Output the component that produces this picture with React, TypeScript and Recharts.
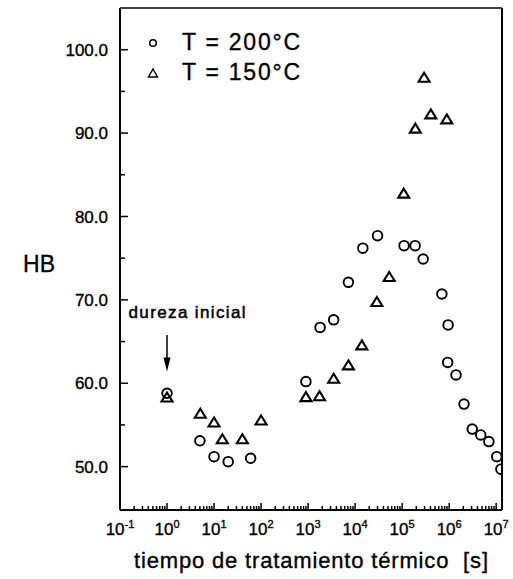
import * as React from "react"
import {
  Legend,
  ReferenceLine,
  Scatter,
  ScatterChart,
  XAxis,
  YAxis,
} from "recharts"

// tiempo [s] / dureza HB
const t200 = [1, 5, 10, 20, 60, 900, 1800, 3500, 7200, 14600, 30000, 110000, 189000, 280000, 700000, 950000, 930000, 1400000, 2070000, 3100000, 4700000, 7000000, 10300000, 12600000]
const hb200 = [58.8, 53.1, 51.2, 50.6, 51.0, 60.2, 66.7, 67.6, 72.1, 76.2, 77.7, 76.5, 76.5, 74.9, 70.7, 67.0, 62.5, 61.0, 57.5, 54.5, 53.8, 53.0, 51.2, 49.7]

const t150 = [1, 5.1, 10, 15, 40, 100, 900, 1750, 3500, 7200, 13900, 29000, 53000, 108000, 191000, 293000, 407000, 890000]
const hb150 = [58.35, 56.4, 55.35, 53.35, 53.35, 55.6, 58.4, 58.5, 60.6, 62.2, 64.6, 69.8, 72.8, 82.8, 90.6, 96.7, 92.3, 91.7]

const seriesNames = ["T = 200°C", "T = 150°C"]

const xMajorExps = [-1, 0, 1, 2, 3, 4, 5, 6, 7]
const yTicks = [50, 55, 60, 65, 70, 75, 80, 85, 90, 95, 100]
const xDomain = [0.1, 13300000]
const yDomain = [44.8, 105]

const data200 = t200.map((t, i) => ({ t, hb: hb200[i] }))
const data150 = t150.map((t, i) => ({ t, hb: hb150[i] }))

const xTicks: number[] = []
xMajorExps.forEach((e, i) => {
  if (i === xMajorExps.length - 1) {
    xTicks.push(Math.pow(10, e))
    return
  }
  for (let m = 1; m <= 9; m++) xTicks.push(Number((m * Math.pow(10, e)).toPrecision(6)))
})

const font = "'Liberation Sans', Arial, sans-serif"
// scanned look: slightly heavier glyphs
const ink = { fill: "#000", stroke: "#000", strokeWidth: 0.35 }

const isDecade = (v: number) => {
  const lg = Math.log10(v)
  return Math.abs(lg - Math.round(lg)) < 1e-9
}

const XTick = (props: any) => {
  const { x, y, payload } = props
  const v = payload.value
  const major = isDecade(v)
  const exp = Math.round(Math.log10(v))
  return (
    <g>
      <line x1={x} y1={y} x2={x} y2={y - (major ? 7 : 4)} stroke="#000" strokeWidth={1.5} />
      {major && (
        <text x={x} y={y + 25} textAnchor="middle" fontFamily={font} fontSize={17} {...ink}>
          <tspan>10</tspan>
          <tspan dy={-7} fontSize={11}>{exp}</tspan>
        </text>
      )}
    </g>
  )
}

const YTick = (props: any) => {
  const { x, y, payload } = props
  const v = payload.value
  const major = v % 10 === 0
  return (
    <g>
      <line x1={x} y1={y} x2={x + (major ? 8 : 5)} y2={y} stroke="#000" strokeWidth={1.5} />
      {major && (
        <text x={x - 12} y={y} dy="0.36em" textAnchor="end" fontFamily={font} fontSize={17} {...ink}>
          {v.toFixed(1)}
        </text>
      )}
    </g>
  )
}

const Ring = (props: any) => (
  <circle cx={props.cx} cy={props.cy} r={4.8} fill="none" stroke="#000" strokeWidth={1.9} />
)

const Tri = (props: any) => {
  const { cx, cy } = props
  return (
    <polygon
      points={`${cx},${cy - 4.5} ${cx + 5.5},${cy + 4.5} ${cx - 5.5},${cy + 4.5}`}
      fill="none"
      stroke="#000"
      strokeWidth={2.1}
    />
  )
}

const LegendBox = () => (
  <svg width={180} height={64}>
    <circle cx={8} cy={17} r={3.3} fill="none" stroke="#000" strokeWidth={1.5} />
    <text x={37} y={24} fontFamily={font} fontSize={23} textLength={118} lengthAdjust="spacing" {...ink}>
      {seriesNames[0]}
    </text>
    <polygon points="8,43 12.5,51 3.5,51" fill="none" stroke="#000" strokeWidth={1.4} />
    <text x={37} y={54} fontFamily={font} fontSize={23} textLength={118} lengthAdjust="spacing" {...ink}>
      {seriesNames[1]}
    </text>
  </svg>
)

const Arrow = (props: any) => {
  const { x1, y1, x2, y2 } = props
  return (
    <g>
      <text x={x1 - 38.5} y={y1 - 17} fontFamily={font} fontSize={17} textLength={117} lengthAdjust="spacing" {...ink} strokeWidth={0.5}>
        dureza inicial
      </text>
      <line x1={x1} y1={y1} x2={x2} y2={y2 - 12} stroke="#000" strokeWidth={1.5} />
      <polygon points={`${x2},${y2} ${x2 + 3.5},${y2 - 14} ${x2 - 3.5},${y2 - 14}`} fill="#000" />
    </g>
  )
}

export default function App() {
  return (
    <div style={{ position: "absolute", left: 0, top: 0 }}>
      <ScatterChart width={513} height={579} margin={{ top: 8, right: 11, bottom: 0, left: 20 }}>
        <XAxis
          dataKey="t"
          type="number"
          scale="log"
          domain={xDomain}
          allowDataOverflow
          ticks={xTicks}
          interval={0}
          tick={<XTick />}
          tickLine={false}
          tickSize={0}
          tickMargin={0}
          height={69}
          axisLine={{ stroke: "#000", strokeWidth: 2 }}
          label={{
            content: (p: any) => (
              <text
                x={p.viewBox.x + p.viewBox.width / 2}
                y={p.viewBox.y + 58}
                textAnchor="middle"
                fontFamily={font}
                fontSize={22}
                textLength={354}
                lengthAdjust="spacing"
                {...ink}
              >
                tiempo de tratamiento térmico{"\u00a0\u00a0"}[s]
              </text>
            ),
          }}
        />
        <YAxis
          dataKey="hb"
          type="number"
          domain={yDomain}
          allowDataOverflow
          ticks={yTicks}
          interval={0}
          tick={<YTick />}
          tickLine={false}
          tickSize={0}
          tickMargin={0}
          width={100}
          axisLine={{ stroke: "#000", strokeWidth: 2 }}
          label={{
            content: (p: any) => (
              <text x={p.viewBox.x + 19} y={272} textAnchor="middle" fontFamily={font} fontSize={23} {...ink}>
                HB
              </text>
            ),
          }}
        />
        <ReferenceLine y={yDomain[1]} stroke="#000" strokeWidth={1.5} ifOverflow="visible" />
        <ReferenceLine x={xDomain[1]} stroke="#000" strokeWidth={2} ifOverflow="visible" />
        <ReferenceLine
          segment={[{ x: 1, y: 65.8 }, { x: 1, y: 61.4 }]}
          shape={<Arrow />}
          ifOverflow="visible"
        />
        <Legend
          layout="vertical"
          align="center"
          verticalAlign="middle"
          content={<LegendBox />}
          wrapperStyle={{ left: 145, top: 26, width: 180, height: 64 }}
        />
        <Scatter name={seriesNames[0]} data={data200} shape={<Ring />} isAnimationActive={false} />
        <Scatter name={seriesNames[1]} data={data150} shape={<Tri />} isAnimationActive={false} />
      </ScatterChart>
    </div>
  )
}
